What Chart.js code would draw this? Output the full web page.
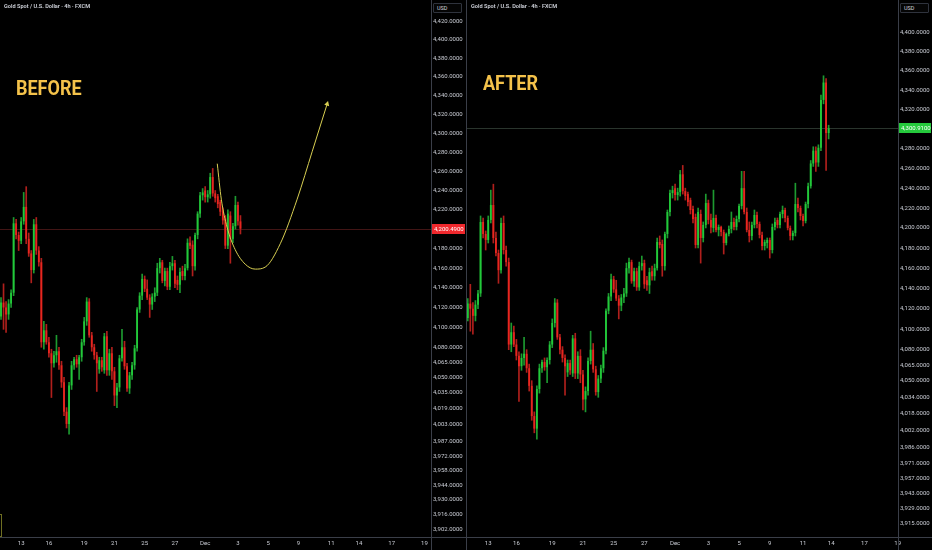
<!DOCTYPE html>
<html><head><meta charset="utf-8">
<script src="https://cdn.jsdelivr.net/npm/chart.js@4.4.1/dist/chart.umd.min.js"></script>
<style>
html,body{margin:0;padding:0;background:#000;width:932px;height:550px;overflow:hidden;position:relative;}
.panel{position:absolute;top:0;width:466px;height:550px;}
#pl{left:0;} #pr{left:466px;}
canvas{display:block;}
.title{position:absolute;top:3px;font:600 5.6px Roboto,sans-serif;color:#d1d4dc;white-space:nowrap;}
.big{position:absolute;font:700 20px Roboto,sans-serif;color:#f4c24a;line-height:20px;white-space:nowrap;transform-origin:0 0;transform:scaleX(0.9);}
.usd{position:absolute;top:3px;width:29px;height:10px;box-sizing:border-box;border:1px solid #2f333d;border-radius:1px;font:5.5px Roboto,sans-serif;color:#d1d4dc;line-height:8px;padding-left:3px;background:#050505;}
.mark{position:absolute;left:-12px;top:514px;width:14px;height:23px;box-sizing:border-box;border:1px solid #6f6f22;}
</style></head>
<body>
<div class="panel" id="pl"><canvas id="cl" width="466" height="550"></canvas></div>
<div class="panel" id="pr"><canvas id="cr" width="466" height="550"></canvas></div>
<div class="title" style="left:4px;">Gold Spot / U.S. Dollar · 4h · FXCM</div>
<div class="title" style="left:471px;">Gold Spot / U.S. Dollar · 4h · FXCM</div>
<div class="big" style="left:16px;top:78px;">BEFORE</div>
<div class="big" style="left:483px;top:73px;">AFTER</div>
<div class="usd" style="left:433px;">USD</div>
<div class="usd" style="left:900px;">USD</div>
<div class="mark"></div>
<script>
// ---- data (4h candles, index 0 = Nov 13) ----
const firstIndex = -8;
const openP  = [4111,4125,4120,4113,4124,4135,4206,4194,4188,4208,4223,4190,4175,4158,4205,4178,4166,4085,4097,4085,4074,4064,4072,4076,4062,4045,4016,4004,4042,4062,4068,4063,4070,4085,4106,4126,4092,4080,4072,4058,4067,4057,4091,4057,4074,4056,4032,4040,4069,4080,4061,4039,4052,4062,4079,4118,4132,4149,4139,4130,4123,4131,4135,4160,4166,4147,4157,4141,4162,4165,4148,4143,4157,4152,4160,4186,4184,4162,4194,4216,4235,4240,4233,4236,4254,4237,4234,4228,4219,4211,4183,4214,4190,4203,4225,4208,4200,4210,4198,4201,4196,4185,4194,4199,4206,4201,4209,4222,4240,4216,4198,4192,4203,4213,4204,4193,4182,4185,4188,4178,4201,4208,4203,4214,4218,4210,4200,4192,4195,4224,4220,4212,4207,4224,4242,4265,4278,4266,4281,4330,4348,4296];
const highP  = [4130,4144,4126,4128,4138,4212,4210,4197,4212,4238,4244,4196,4178,4210,4212,4182,4170,4106,4103,4090,4078,4076,4092,4080,4066,4050,4020,4045,4066,4070,4072,4072,4088,4110,4130,4129,4095,4083,4075,4070,4070,4094,4096,4078,4080,4060,4044,4072,4098,4086,4064,4055,4065,4082,4120,4135,4154,4152,4148,4133,4134,4140,4165,4170,4168,4160,4160,4166,4172,4168,4152,4160,4162,4164,4190,4192,4188,4196,4218,4238,4242,4244,4240,4258,4263,4240,4236,4230,4222,4214,4220,4218,4206,4234,4228,4214,4238,4213,4203,4202,4198,4195,4202,4216,4210,4212,4224,4257,4257,4220,4206,4206,4218,4216,4206,4196,4188,4190,4190,4204,4210,4210,4216,4222,4220,4212,4202,4197,4245,4230,4222,4214,4226,4245,4268,4282,4282,4284,4335,4355,4352,4304];
const lowP   = [4108,4098,4095,4108,4120,4132,4190,4178,4185,4205,4185,4172,4145,4155,4174,4162,4080,4078,4083,4070,4030,4060,4065,4058,4040,4012,4000,3994,4038,4058,4060,4048,4066,4082,4102,4090,4076,4068,4036,4054,4056,4054,4052,4052,4048,4022,4020,4036,4066,4058,4036,4034,4048,4058,4076,4115,4128,4136,4128,4110,4118,4126,4132,4155,4145,4142,4138,4138,4158,4140,4138,4135,4148,4148,4158,4180,4152,4158,4190,4212,4230,4228,4228,4232,4234,4228,4222,4214,4205,4180,4180,4165,4186,4200,4204,4195,4196,4196,4192,4192,4174,4183,4192,4195,4198,4198,4206,4219,4214,4196,4186,4188,4200,4200,4190,4178,4178,4180,4170,4175,4198,4200,4200,4210,4206,4198,4188,4188,4192,4216,4208,4202,4205,4220,4240,4262,4257,4262,4278,4326,4258,4290];
const closeP = [4125,4120,4113,4124,4135,4206,4194,4188,4208,4223,4190,4175,4158,4205,4178,4166,4085,4097,4085,4074,4064,4072,4076,4062,4045,4016,4004,4042,4062,4068,4063,4070,4085,4106,4126,4092,4080,4072,4064,4067,4060,4091,4057,4074,4056,4032,4040,4069,4080,4061,4039,4052,4062,4079,4118,4132,4149,4139,4130,4123,4131,4135,4160,4166,4147,4157,4141,4162,4165,4144,4143,4156,4152,4160,4186,4183,4162,4194,4216,4235,4238,4233,4236,4254,4237,4232,4226,4218,4209,4183,4216,4190,4203,4225,4208,4200.49,4210,4198,4201,4196,4185,4194,4199,4206,4201,4209,4222,4240,4216,4198,4192,4203,4213,4204,4193,4182,4186,4188,4178,4201,4206,4203,4214,4218,4210,4200,4192,4195,4224,4220,4212,4207,4224,4242,4265,4278,4266,4281,4330,4348,4296,4300.91];
const beforeCount = 96; // candles visible in the BEFORE snapshot
const dateTickIndex = [0,11,25,37,49,61,73,86,98,110,123,134,147,160];
const dateTickLabel = ['13','16','19','21','25','27','Dec','3','5','9','11','14','17','19'];
const yTicksBefore = [4420,4400,4380,4360,4340,4320,4300,4280,4260,4240,4220,4180,4160,4140,4120,4100,4080,4065,4050,4035,4019,4003,3987,3972,3958,3944,3930,3916,3902];
const yTicksAfter  = [4400,4380,4360,4340,4320,4280,4260,4240,4220,4200,4180,4160,4140,4120,4100,4080,4065,4050,4034,4018,4002,3986,3971,3957,3943,3929,3915];
// projected path drawn on the BEFORE chart
const curveIndex = [77.8,79.4,81.7,84.9,88.9,92.9,96.8,102.8,109.5,115.5,121.4];
const curvePrice = [4268,4231,4202,4179,4164,4159,4161,4185,4231,4281,4331];

const UP='#22c93a', DOWN='#e8261f', UPW='#1d9a30', DOWNW='#b01f1c';
const FONT='Roboto, sans-serif';
const fmt = v => Number(v).toLocaleString('en-US',{minimumFractionDigits:4,maximumFractionDigits:4});

const tvPlugin = {
  id:'tv',
  beforeDatasetsDraw(chart, args, o){
    const ctx=chart.ctx, a=chart.chartArea, y=chart.scales.y.getPixelForValue(o.price);
    ctx.save(); ctx.strokeStyle=o.lineColor; ctx.lineWidth=1;
    ctx.beginPath(); ctx.moveTo(a.left, Math.round(y)+0.5); ctx.lineTo(a.right, Math.round(y)+0.5); ctx.stroke();
    ctx.restore();
  },
  afterDraw(chart, args, o){
    const ctx=chart.ctx, a=chart.chartArea, W=chart.width, H=chart.height;
    const y=chart.scales.y.getPixelForValue(o.price);
    ctx.save();
    ctx.strokeStyle='#3a3e48'; ctx.lineWidth=1;
    ctx.beginPath();
    ctx.moveTo(a.right+0.5,0); ctx.lineTo(a.right+0.5,H);
    ctx.moveTo(0,a.bottom+0.5); ctx.lineTo(W,a.bottom+0.5);
    if(o.sep){ ctx.moveTo(0.5,0); ctx.lineTo(0.5,H); }
    ctx.stroke();
    ctx.fillStyle=o.tagColor;
    ctx.fillRect(a.right+1, Math.round(y)-5, W-a.right-2, 10);
    ctx.fillStyle='#ffffff'; ctx.font='6px '+FONT; ctx.textBaseline='middle'; ctx.textAlign='left';
    ctx.fillText(fmt(o.price), a.right+3, Math.round(y)+0.5);
    ctx.restore();
  }
};

function noPad(ax){ ax.paddingTop=0; ax.paddingBottom=0; ax.paddingLeft=0; ax.paddingRight=0; }

function makeChart(id, count, cfg){
  const wick=[], body=[], bc=[], wc=[];
  for(let k=0;k<count;k++){
    const x=firstIndex+k;
    wick.push({x, y:[lowP[k], highP[k]]});
    body.push({x, y:[openP[k], closeP[k]]});
    const up=closeP[k]>=openP[k];
    bc.push(up?UP:DOWN); wc.push(up?UPW:DOWNW);
  }
  const datasets=[
    {type:'bar', data:body, backgroundColor:bc, borderWidth:0, grouped:false, barPercentage:1, categoryPercentage:0.72, minBarLength:1, order:1},
    {type:'bar', data:wick, backgroundColor:wc, borderWidth:0, grouped:false, barThickness:1, order:2}
  ];
  if(cfg.curve){
    const pts=curveIndex.map((x,k)=>({x, y:curvePrice[k]}));
    datasets.push({type:'line', data:pts, borderColor:'#d8cf52', borderWidth:1, backgroundColor:'#d8cf52',
      cubicInterpolationMode:'monotone', pointRadius:pts.map((p,k)=>k===pts.length-1?3:0),
      pointStyle:'triangle', pointRotation:17, pointBorderWidth:0, order:0, clip:false});
  }
  return new Chart(document.getElementById(id), {
    data:{datasets},
    plugins:[tvPlugin],
    options:{
      responsive:false, animation:false, events:[],
      layout:{autoPadding:false, padding:{left:cfg.padLeft, right:0, top:0, bottom:0}},
      plugins:{legend:{display:false}, tooltip:{enabled:false}, tv:{price:cfg.price, lineColor:cfg.lineColor, tagColor:cfg.tagColor, sep:cfg.sep}},
      scales:{
        x:{type:'linear', min:cfg.xmin, max:cfg.xmax, offset:false,
           grid:{display:false, drawTicks:false}, border:{display:false},
           ticks:{color:'#c9ccd4', font:{size:6, family:FONT}, padding:3, autoSkip:false, maxRotation:0,
             callback:(v)=>{const i=dateTickIndex.indexOf(v); return i>=0?dateTickLabel[i]:'';}},
           afterBuildTicks:(ax)=>{ax.ticks=dateTickIndex.map(v=>({value:v}));},
           afterFit:(ax)=>{ax.height=13; noPad(ax);}},
        y:{type:'logarithmic', position:'right', min:cfg.ymin, max:cfg.ymax,
           grid:{display:false, drawTicks:false}, border:{display:false},
           ticks:{color:'#c9ccd4', font:{size:6, family:FONT}, padding:2, autoSkip:false, callback:(v)=>fmt(v)},
           afterBuildTicks:(ax)=>{ax.ticks=cfg.yticks.map(v=>({value:v}));},
           afterFit:(ax)=>{ax.width=cfg.axisW; noPad(ax);}}
      }
    }
  });
}

makeChart('cl', beforeCount, {curve:true, price:closeP[beforeCount-1], lineColor:'#421515', tagColor:'#f0282d',
  xmin:-8.4, xmax:162.6, ymin:3894.4, ymax:4442.9, yticks:yTicksBefore, axisW:35, padLeft:0, sep:false});
makeChart('cr', openP.length, {curve:false, price:closeP[closeP.length-1], lineColor:'#2a352d', tagColor:'#25c93c',
  xmin:-8.3, xmax:160.1, ymin:3902.0, ymax:4434.3, yticks:yTicksAfter, axisW:34, padLeft:1, sep:true});
</script>
</body></html>
